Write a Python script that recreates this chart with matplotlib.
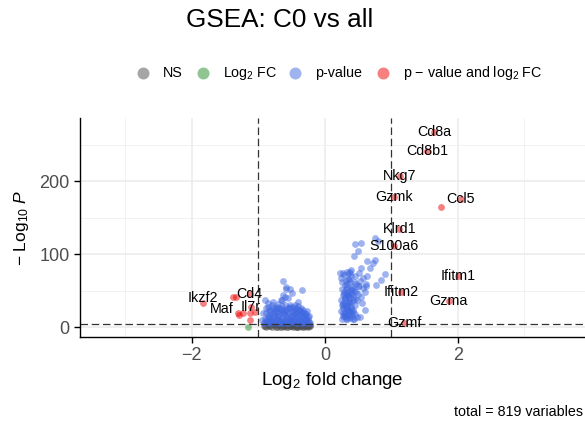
import matplotlib
matplotlib.use('Agg')
import matplotlib.pyplot as plt
from matplotlib.lines import Line2D

plt.rcParams['font.family'] = 'Liberation Sans'
plt.rcParams['mathtext.fontset'] = 'custom'
plt.rcParams['mathtext.rm'] = 'Liberation Sans'
plt.rcParams['mathtext.it'] = 'Liberation Sans:italic'

# NS (grey)
ns_fc = [-0.91, -0.86, -0.82, -0.78, -0.74, -0.70, -0.66, -0.62, -0.58, -0.54, -0.50, -0.46, -0.42, -0.38,
         -0.34, -0.30, -0.26, -0.23, -0.88, -0.80, -0.72, -0.64, -0.56, -0.48, -0.40, -0.32, -0.25, -0.52,
         -0.44, -0.36, -0.28, -0.60, -0.68, -0.31, -0.27, -0.24, -0.47, -0.39,
         -0.90, -0.84, -0.76, -0.69, -0.61, -0.53, -0.45, -0.37, -0.29, -0.22, -0.58, -0.43, -0.35, -0.27,
         -0.50, -0.33]
ns_p = [1.5, 3.0, 2.0, 4.0, 1.0, 2.5, 3.5, 1.2, 2.8, 4.2, 1.8, 3.2, 0.8, 2.2,
        3.8, 1.4, 2.6, 3.4, 0.5, 0.6, 0.4, 0.7, 0.3, 0.5, 0.6, 0.4, 0.8, 2.0,
        1.0, 1.6, 3.0, 4.4, 0.9, 4.0, 1.1, 2.3, 3.6, 4.6,
        2.2, 1.3, 2.6, 3.0, 2.4, 1.6, 2.9, 3.1, 1.9, 1.2, 0.6, 2.0, 0.9, 3.9,
        3.3, 2.7]

# Log2 FC only (green)
fc_fc = [-1.16]
fc_p = [0.4]

# p-value only (blue)
pv_fc = [
    # left, sparse
    -0.63, -0.53, -0.35, -0.59, -0.63, -0.50, -0.64, -0.78, -0.85, -0.95, -0.58, -0.60, -0.66, -0.55,
    -0.45, -0.72, -0.88, -0.40, -0.93, -0.90, -0.84,
    # left, dense
    -0.92, -0.87, -0.83, -0.79, -0.75, -0.71, -0.67, -0.63, -0.59, -0.55, -0.51, -0.47, -0.43, -0.39,
    -0.35, -0.31, -0.27, -0.24,
    -0.90, -0.85, -0.81, -0.77, -0.73, -0.69, -0.65, -0.61, -0.57, -0.53, -0.49, -0.45, -0.41, -0.37,
    -0.33, -0.29, -0.25,
    -0.88, -0.83, -0.78, -0.74, -0.70, -0.66, -0.62, -0.58, -0.54, -0.50, -0.46, -0.42, -0.38, -0.34,
    -0.30, -0.27,
    -0.86, -0.80, -0.75, -0.70, -0.65, -0.60, -0.56, -0.52, -0.48, -0.44, -0.40, -0.36,
    -0.90, -0.85, -0.80, -0.74, -0.68, -0.62, -0.57, -0.52, -0.47, -0.42, -0.37, -0.33, -0.28, -0.23,
    -0.89, -0.84, -0.79, -0.76, -0.72, -0.68, -0.64, -0.60, -0.56, -0.52, -0.48, -0.44, -0.40, -0.36,
    -0.32, -0.28, -0.26, -0.24, -0.30, -0.34,
    -0.82, -0.77, -0.71, -0.67, -0.63, -0.59, -0.55, -0.51, -0.47, -0.43, -0.39, -0.35, -0.31, -0.29,
    -0.84, -0.79, -0.73, -0.69, -0.64, -0.58, -0.53, -0.49, -0.45, -0.41, -0.37, -0.33,
    # right, sparse
    0.76, 0.80, 0.45, 0.55, 0.50, 0.44, 0.64, 0.75, 0.55, 0.68, 0.90, 0.28, 0.38, 0.77,
    0.60, 0.48, 0.56, 0.42, 0.33, 0.53, 0.60, 0.62, 0.23, 0.72, 0.85,
    # right, dense
    0.26, 0.29, 0.32, 0.35, 0.38, 0.41, 0.44, 0.48, 0.31, 0.37,
    0.25, 0.28, 0.31, 0.34, 0.37, 0.40, 0.43, 0.27, 0.33, 0.39, 0.46,
    0.24, 0.27, 0.30, 0.33, 0.36, 0.39, 0.42, 0.45, 0.29, 0.35, 0.50, 0.55,
    0.26, 0.30, 0.34, 0.38, 0.42, 0.47, 0.52, 0.57, 0.62, 0.32, 0.44,
    0.25, 0.29, 0.35, 0.40, 0.46, 0.52, 0.58, 0.64, 0.33,
    0.28, 0.32, 0.36, 0.30, 0.34, 0.38, 0.26, 0.40,
    0.27, 0.30, 0.33, 0.36, 0.39, 0.42, 0.45, 0.28, 0.31, 0.34, 0.37, 0.40, 0.43, 0.29,
    0.32, 0.35, 0.38, 0.41, 0.26, 0.36, 0.30, 0.33, 0.39, 0.44, 0.47, 0.50, 0.53, 0.36, 0.41,
]
pv_p = [
    63, 52, 51, 55, 44, 47, 37, 35, 33, 10, 52, 42, 37, 40,
    30, 28, 26, 35, 20, 38, 14,
    6, 8, 5.5, 9, 7, 6, 8, 6, 9, 5.5, 7, 10, 6, 8,
    5.8, 9, 6, 7,
    12, 15, 11, 17, 13, 16, 12, 18, 14, 11, 16, 13, 17, 12,
    15, 11, 14,
    20, 23, 19, 25, 21, 24, 19, 22, 26, 20, 23, 19, 24, 21,
    20, 22,
    28, 31, 27, 32, 29, 30, 27, 31, 28, 26, 29, 27,
    6, 7, 5.8, 8, 6.5, 7.5, 6, 8.5, 7, 6, 8, 6.5, 7, 6,
    10, 13, 9, 14, 11, 9, 13, 10, 12, 9, 11, 14, 10, 13,
    9, 12, 10, 16, 17, 8,
    18, 21, 16, 19, 22, 17, 20, 16, 18, 21, 17, 19, 16, 18,
    24, 26, 23, 27, 25, 24, 28, 23, 25, 24, 22, 24,
    122, 118, 114, 115, 104, 98, 91, 92, 81, 82, 73, 74, 76, 58,
    49, 37, 33, 12, 11, 14, 24, 56, 74, 88, 65,
    12, 15, 11, 18, 13, 16, 12, 14, 19, 17,
    22, 26, 30, 24, 33, 28, 21, 34, 29, 25, 31,
    38, 44, 40, 48, 36, 46, 42, 39, 49, 43, 45, 41,
    52, 58, 55, 62, 53, 60, 57, 54, 59, 64, 50,
    68, 72, 66, 78, 70, 74, 67, 71, 76,
    20, 27, 35, 15, 45, 23, 31, 52,
    16, 20, 14, 22, 19, 24, 18, 31, 36, 27, 41, 33, 37, 46,
    52, 44, 50, 55, 62, 66, 40, 60, 70, 62, 48, 56, 64, 74, 45,
]

# p-value and Log2 FC (red)
both_fc = [1.64, 1.54, 1.13, 1.04, 2.04, 1.12, 1.04, 2.00, 1.15, 1.86, 1.19,
           -1.83, -1.13, -1.31, -1.11,
           1.74, -1.38, -1.33, -1.23, -1.29, -1.13, -1.05, -1.13]
both_p = [268, 242, 207, 178, 176, 135, 111, 71, 48, 36, 6,
          34, 46, 19, 28,
          165, 41, 42, 19, 17, 19, 21, 10]
both_lab = ['Cd8a', 'Cd8b1', 'Nkg7', 'Gzmk', 'Ccl5', 'Klrd1', 'S100a6', 'Ifitm1', 'Ifitm2', 'Gzma', 'Gzmf',
            'Ikzf2', 'Cd4', 'Maf', 'Il7r',
            '', '', '', '', '', '', '', '']

# label nudges (points)
nudge = {'Ikzf2': (0, 3.6), 'Maf': (-11.8, 3.2)}

fig = plt.figure(figsize=(5.85, 4.21), dpi=100)
ax = fig.add_axes([80 / 585, 84 / 421, 505 / 585, 219 / 421])

ax.set_xlim(-3.68, 3.91)
ax.set_ylim(-13.3, 287)
ax.set_xticks([-2, 0, 2])
ax.set_xticks([-3, -1, 1, 3], minor=True)
ax.set_yticks([0, 100, 200])
ax.set_yticks([50, 150, 250], minor=True)
ax.grid(True, which='major', color='#EBEBEB', lw=1.1)
ax.grid(True, which='minor', color='#F0F0F0', lw=0.6)
ax.set_axisbelow(True)
for s in ['top', 'right']:
    ax.spines[s].set_visible(False)
for s in ['left', 'bottom']:
    ax.spines[s].set_linewidth(1.0)
ax.tick_params(which='major', length=4.5, width=1.0, labelsize=13, labelcolor='#4D4D4D', pad=3)
ax.tick_params(which='minor', length=0)

kw = dict(s=24, alpha=0.5, linewidths=0)
ax.scatter(ns_fc, ns_p, c='#4D4D4D', **kw)
ax.scatter(fc_fc, fc_p, c='#228B22', **kw)
ax.scatter(pv_fc, pv_p, c='#4169E1', **kw)
ax.scatter(both_fc, both_p, c='#EE0000', **kw)

ax.axvline(-1, color='#333333', lw=0.9, ls=(0, (6, 3)), zorder=1.5)
ax.axvline(1, color='#333333', lw=0.9, ls=(0, (6, 3)), zorder=1.5)
ax.axhline(5, color='#333333', lw=0.9, ls=(0, (6, 3)), zorder=1.5)

for x, y, lab in zip(both_fc, both_p, both_lab):
    if lab:
        ax.annotate(lab, (x, y), xytext=nudge.get(lab, (0, 0)), textcoords='offset points',
                    ha='center', va='center', fontsize=10.3, color='black')

ax.set_xlabel('Log$_2$ fold change', fontsize=13.5, labelpad=4)
ax.set_ylabel(r'$-$ Log$_{10}$ $\it{P}$', fontsize=12.5, labelpad=6)

fig.text(280 / 585, 1 - 27 / 421, 'GSEA: C0 vs all', ha='center', va='baseline', fontsize=18.8)

# legend row
leg_items = [('NS', '#4D4D4D', 142.7), ('Log$_2$ FC', '#228B22', 203),
             ('p-value', '#4169E1', 295), ('p $-$ value and log$_2$ FC', '#EE0000', 383)]
for lab, col, px in leg_items:
    fig.add_artist(Line2D([px / 585], [1 - 73 / 421], marker='o', ms=8.6, color=col, alpha=0.5,
                          mec='none', ls='none', transform=fig.transFigure))
    fig.text((px + 20) / 585, 1 - 77.3 / 421, lab, ha='left', va='baseline', fontsize=10.3)

fig.text(583 / 585, 5 / 421, 'total = 819 variables', ha='right', va='baseline', fontsize=10.3)

fig.savefig('out.png', dpi=100)
